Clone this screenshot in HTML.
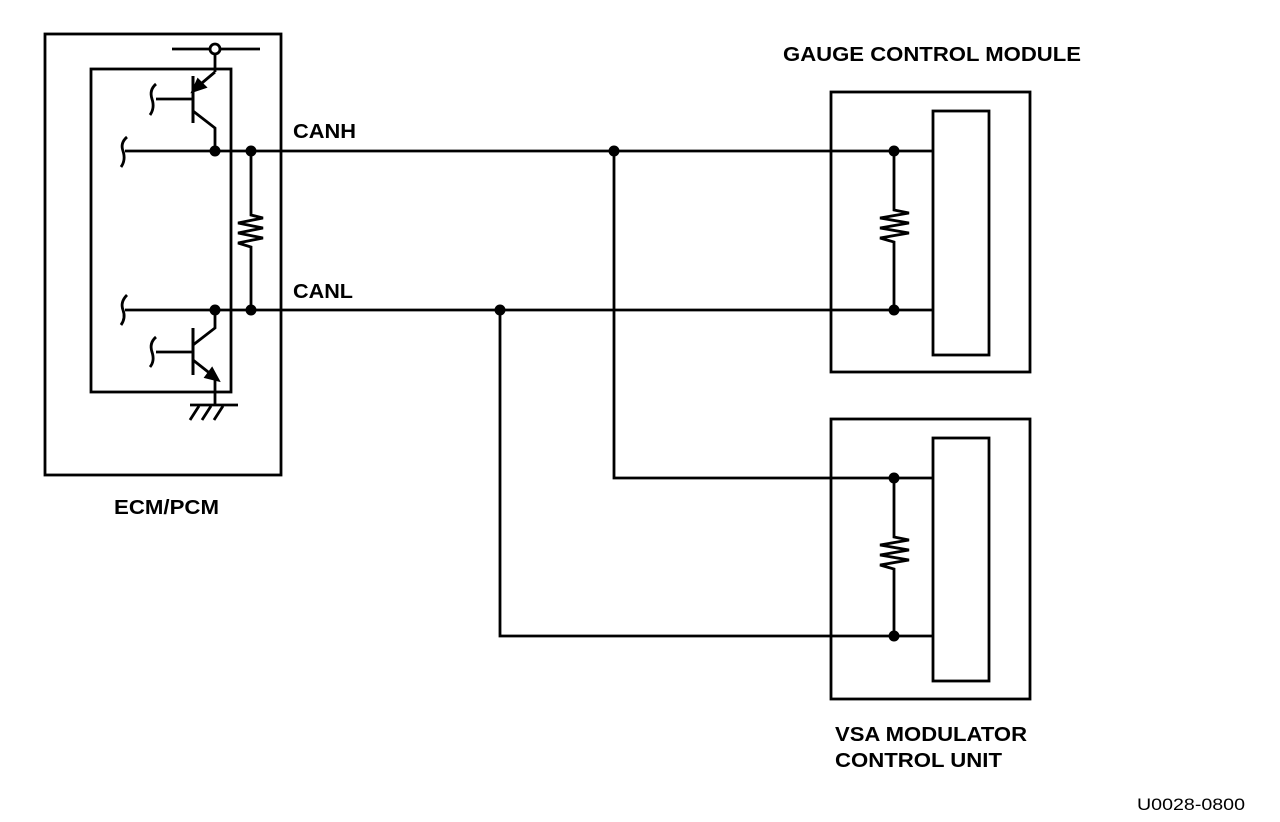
<!DOCTYPE html>
<html><head><style>body{margin:0;background:#fff}svg{display:block}text{font-family:"Liberation Sans",sans-serif;font-weight:bold;font-size:20px;fill:#000}</style></head><body>
<svg width="1280" height="822" viewBox="0 0 1280 822" xmlns="http://www.w3.org/2000/svg">
<g fill="none" stroke="#000" stroke-width="2.8">
<rect x="45" y="34" width="236" height="441"/>
<rect x="91" y="69" width="140" height="323"/>
<rect x="831" y="92" width="199" height="280"/>
<rect x="933" y="111" width="56" height="244"/>
<rect x="831" y="419" width="199" height="280"/>
<rect x="933" y="438" width="56" height="243"/>
<line x1="172" y1="49" x2="210" y2="49"/><line x1="220" y1="49" x2="260" y2="49"/>
<circle cx="215" cy="49" r="5"/>
<line x1="215" y1="54" x2="215" y2="72"/>
<line x1="193" y1="76" x2="193" y2="123" stroke-width="3"/>
<line x1="156" y1="99" x2="193" y2="99"/>
<path d="M156 84 Q149 90 152 99 Q155 108 150 115"/>
<line x1="215" y1="72" x2="196" y2="88"/>
<path d="M193 91 L198 80 L205 87 Z" fill="#000"/>
<path d="M193 111 L215 128 L215 151"/>
<path d="M127 137 Q120 143 123 151 Q126 160 121 167"/>
<line x1="125" y1="151" x2="933" y2="151"/>
<path d="M127 295 Q120 302 123 310 Q126 318 121 325"/>
<line x1="125" y1="310" x2="933" y2="310"/>
<line x1="193" y1="328" x2="193" y2="375" stroke-width="3"/>
<line x1="156" y1="352" x2="193" y2="352"/>
<path d="M156 337 Q149 343 152 352 Q155 361 150 367"/>
<path d="M215 310 L215 328 L193 345"/>
<line x1="193" y1="360" x2="212" y2="375"/>
<path d="M218 380 L206 377 L212 369 Z" fill="#000"/>
<line x1="215" y1="378" x2="215" y2="405"/>
<line x1="190" y1="405" x2="238" y2="405"/>
<path d="M190 420 L199 406 M202 420 L211 406 M214 420 L223 406"/>
<path d="M251 151 L251 215 L263 218 L238 223 L263 228 L238 233 L263 238 L238 243 L251 247 L251 310"/>
<path d="M894 151 L894 210 L909 213 L880 218 L909 223 L880 228 L909 233 L880 238 L894 242 L894 310"/>
<path d="M894 478 L894 537 L909 540 L880 545 L909 550 L880 555 L909 560 L880 565 L894 569 L894 636"/>
<path d="M614 151 L614 478 L933 478"/>
<path d="M500 310 L500 636 L933 636"/>
</g>
<g fill="#000">
<circle cx="215" cy="151" r="5.5"/><circle cx="251" cy="151" r="5.5"/>
<circle cx="215" cy="310" r="5.5"/><circle cx="251" cy="310" r="5.5"/>
<circle cx="614" cy="151" r="5.5"/><circle cx="500" cy="310" r="5.5"/>
<circle cx="894" cy="151" r="5.5"/><circle cx="894" cy="310" r="5.5"/>
<circle cx="894" cy="478" r="5.5"/><circle cx="894" cy="636" r="5.5"/>
</g>
<text x="783" y="61" textLength="298" lengthAdjust="spacingAndGlyphs">GAUGE CONTROL MODULE</text>
<text x="293" y="138" textLength="63" lengthAdjust="spacingAndGlyphs">CANH</text>
<text x="293" y="298" textLength="60" lengthAdjust="spacingAndGlyphs">CANL</text>
<text x="114" y="514" textLength="105" lengthAdjust="spacingAndGlyphs">ECM/PCM</text>
<text x="835" y="741" textLength="192" lengthAdjust="spacingAndGlyphs">VSA MODULATOR</text>
<text x="835" y="767" textLength="167" lengthAdjust="spacingAndGlyphs">CONTROL UNIT</text>
<text x="1137" y="810" textLength="108" lengthAdjust="spacingAndGlyphs" style="font-weight:normal;font-size:17px">U0028-0800</text>
</svg>
</body></html>
